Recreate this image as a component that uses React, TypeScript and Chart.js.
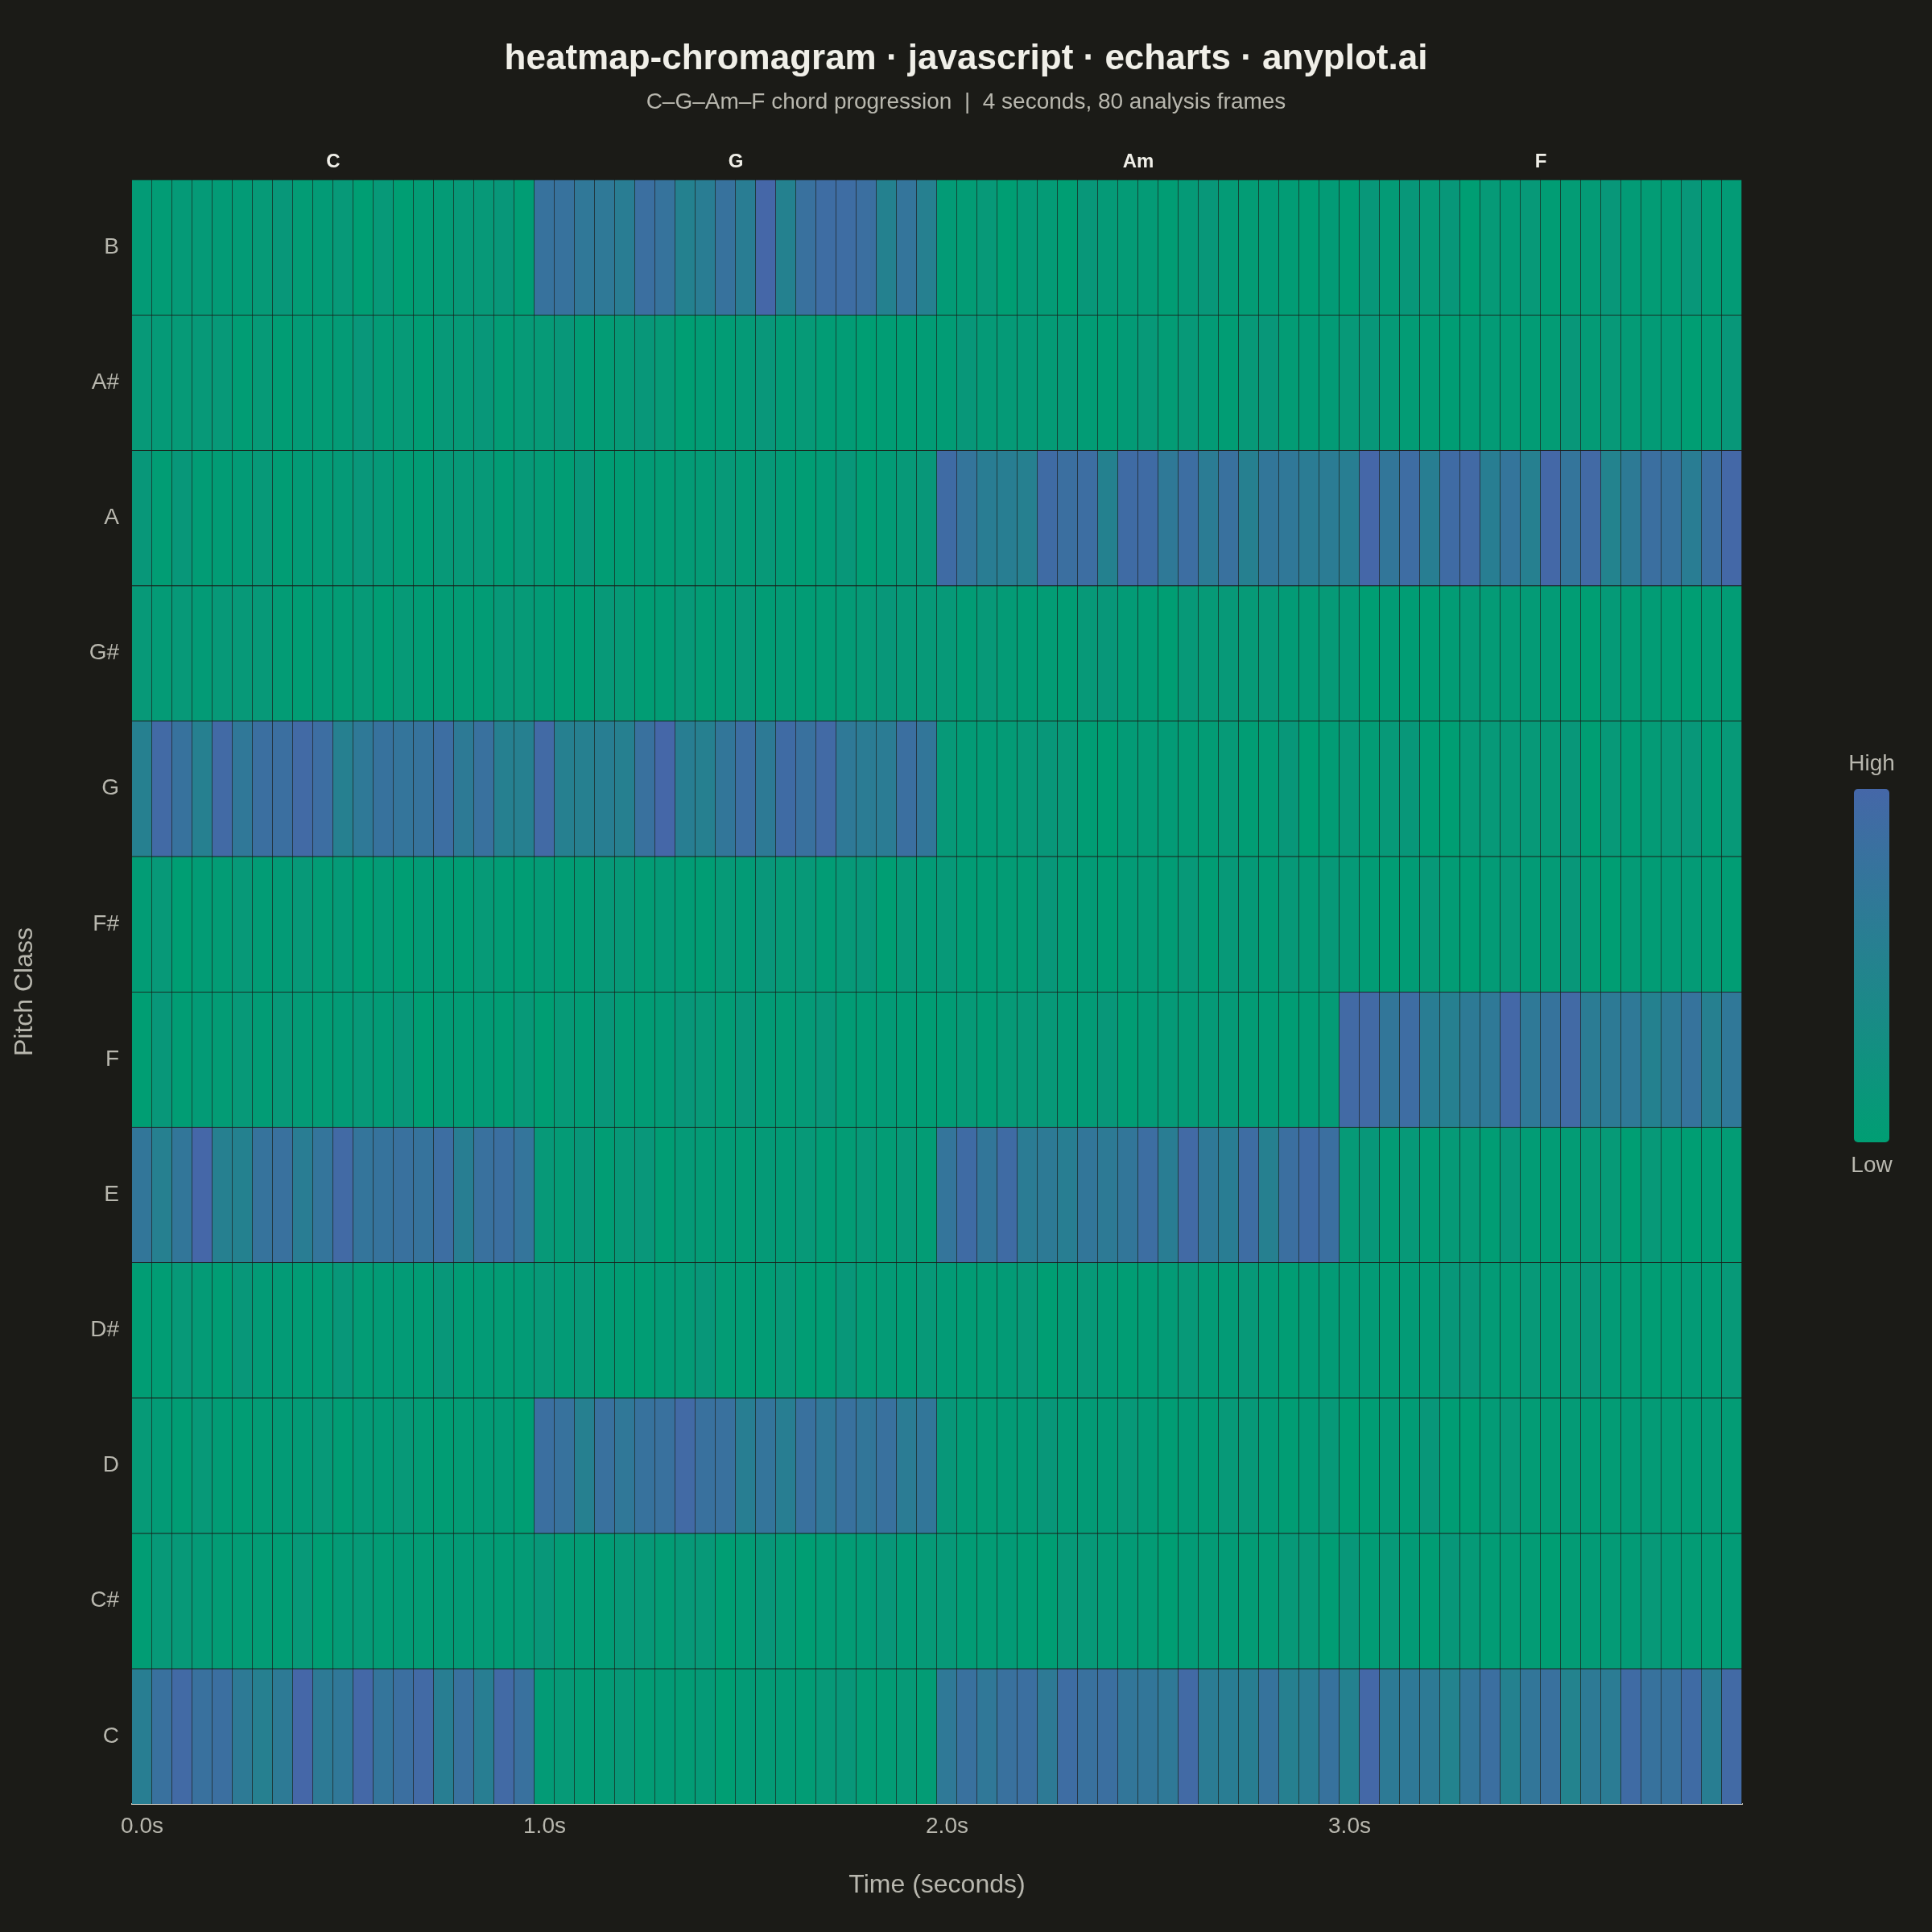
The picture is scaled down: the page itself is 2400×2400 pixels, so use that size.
import React, { useEffect, useRef } from 'react';
import { Chart, registerables } from 'chart.js';

Chart.register(...registerables);

// pitch classes from bottom row to top row
const PITCH_CLASSES = ['C', 'C#', 'D', 'D#', 'E', 'F', 'F#', 'G', 'G#', 'A', 'A#', 'B'];
const CHORDS = ['C', 'G', 'Am', 'F'];
const TIME_TICKS = ['0.0s', '1.0s', '2.0s', '3.0s'];
const FRAMES_PER_CHORD = 20;

// chroma energy per frame (0 = low, 1 = high), 80 frames each
const CHROMA_C = [
  0.58, 0.82, 0.95, 0.82, 0.85, 0.65, 0.55, 0.65, 1.0, 0.65, 0.7, 0.98, 0.75, 0.85, 0.95, 0.58, 0.82, 0.58, 0.95, 0.82,
  0.05, 0.08, 0.04, 0.06, 0.1, 0.04, 0.05, 0.04, 0.07, 0.0, 0.05, 0.06, 0.05, 0.03, 0.1, 0.12, 0.04, 0.04, 0.08, 0.04,
  0.68, 0.82, 0.7, 0.82, 0.85, 0.65, 0.9, 0.82, 0.85, 0.72, 0.72, 0.68, 0.95, 0.62, 0.6, 0.58, 0.78, 0.55, 0.6, 0.8,
  0.52, 0.98, 0.65, 0.68, 0.65, 0.5, 0.72, 0.85, 0.52, 0.72, 0.82, 0.5, 0.65, 0.62, 0.92, 0.8, 0.8, 0.92, 0.58, 0.95,
];
const CHROMA_CS = [
  0.02, 0.1, 0.1, 0.07, 0.04, 0.04, 0.04, 0.02, 0.1, 0.0, 0.06, 0.08, 0.04, 0.05, 0.04, 0.05, 0.05, 0.06, 0.03, 0.06,
  0.12, 0.04, 0.04, 0.03, 0.1, 0.1, 0.04, 0.1, 0.1, 0.0, 0.04, 0.12, 0.06, 0.0, 0.04, 0.04, 0.05, 0.12, 0.05, 0.08,
  0.1, 0.03, 0.04, 0.05, 0.02, 0.0, 0.1, 0.1, 0.06, 0.05, 0.04, 0.0, 0.05, 0.06, 0.05, 0.04, 0.04, 0.1, 0.1, 0.01,
  0.12, 0.03, 0.1, 0.05, 0.02, 0.12, 0.07, 0.03, 0.04, 0.04, 0.0, 0.04, 0.05, 0.06, 0.05, 0.1, 0.05, 0.04, 0.04, 0.05,
];
const CHROMA_D = [
  0.08, 0.05, 0.01, 0.1, 0.03, 0.01, 0.04, 0.05, 0.05, 0.1, 0.02, 0.07, 0.05, 0.1, 0.04, 0.02, 0.04, 0.05, 0.05, 0.0,
  0.85, 0.8, 0.55, 0.82, 0.7, 0.8, 0.82, 0.95, 0.82, 0.82, 0.58, 0.75, 0.58, 0.82, 0.7, 0.82, 0.72, 0.82, 0.62, 0.72,
  0.12, 0.05, 0.04, 0.05, 0.05, 0.12, 0.05, 0.05, 0.05, 0.1, 0.05, 0.02, 0.05, 0.03, 0.1, 0.1, 0.05, 0.02, 0.05, 0.1,
  0.0, 0.02, 0.06, 0.03, 0.12, 0.02, 0.0, 0.05, 0.1, 0.04, 0.04, 0.06, 0.03, 0.04, 0.05, 0.06, 0.04, 0.03, 0.06, 0.04,
];
const CHROMA_DS = [
  0.02, 0.02, 0.1, 0.06, 0.02, 0.12, 0.05, 0.05, 0.03, 0.03, 0.12, 0.04, 0.05, 0.05, 0.03, 0.12, 0.03, 0.05, 0.04, 0.05,
  0.1, 0.05, 0.1, 0.03, 0.01, 0.01, 0.05, 0.06, 0.12, 0.04, 0.03, 0.03, 0.1, 0.02, 0.02, 0.12, 0.04, 0.06, 0.03, 0.1,
  0.05, 0.03, 0.04, 0.05, 0.1, 0.0, 0.05, 0.1, 0.05, 0.02, 0.03, 0.05, 0.1, 0.05, 0.05, 0.1, 0.05, 0.02, 0.05, 0.05,
  0.05, 0.05, 0.04, 0.05, 0.05, 0.12, 0.12, 0.05, 0.04, 0.1, 0.05, 0.08, 0.12, 0.05, 0.04, 0.02, 0.02, 0.05, 0.03, 0.1,
];
const CHROMA_E = [
  0.72, 0.55, 0.72, 1.0, 0.55, 0.52, 0.78, 0.82, 0.6, 0.75, 0.95, 0.75, 0.78, 0.82, 0.78, 0.88, 0.58, 0.82, 0.85, 0.75,
  0.1, 0.06, 0.12, 0.02, 0.1, 0.13, 0.02, 0.07, 0.06, 0.05, 0.04, 0.07, 0.05, 0.1, 0.03, 0.04, 0.1, 0.04, 0.1, 0.04,
  0.75, 0.92, 0.72, 0.92, 0.62, 0.65, 0.58, 0.72, 0.65, 0.72, 0.88, 0.6, 0.95, 0.68, 0.6, 0.9, 0.55, 0.85, 0.92, 0.85,
  0.08, 0.12, 0.04, 0.1, 0.04, 0.08, 0.08, 0.02, 0.12, 0.03, 0.03, 0.04, 0.08, 0.08, 0.0, 0.1, 0.03, 0.0, 0.03, 0.04,
];
const CHROMA_F = [
  0.0, 0.12, 0.02, 0.05, 0.04, 0.1, 0.03, 0.1, 0.06, 0.04, 0.05, 0.1, 0.05, 0.12, 0.0, 0.05, 0.03, 0.05, 0.02, 0.1,
  0.0, 0.08, 0.03, 0.12, 0.04, 0.03, 0.05, 0.12, 0.1, 0.04, 0.12, 0.05, 0.04, 0.07, 0.12, 0.03, 0.03, 0.05, 0.03, 0.02,
  0.03, 0.08, 0.03, 0.08, 0.1, 0.1, 0.05, 0.05, 0.12, 0.02, 0.05, 0.07, 0.06, 0.07, 0.07, 0.04, 0.03, 0.02, 0.03, 0.06,
  0.95, 0.95, 0.72, 0.9, 0.6, 0.55, 0.65, 0.68, 0.98, 0.68, 0.78, 0.95, 0.62, 0.65, 0.68, 0.52, 0.65, 0.78, 0.55, 0.7,
];
const CHROMA_FS = [
  0.03, 0.1, 0.0, 0.03, 0.04, 0.1, 0.03, 0.05, 0.1, 0.04, 0.07, 0.0, 0.06, 0.0, 0.05, 0.03, 0.02, 0.08, 0.03, 0.01,
  0.06, 0.02, 0.04, 0.1, 0.1, 0.04, 0.07, 0.03, 0.01, 0.08, 0.05, 0.13, 0.08, 0.1, 0.03, 0.1, 0.12, 0.0, 0.1, 0.05,
  0.1, 0.03, 0.03, 0.04, 0.04, 0.12, 0.04, 0.05, 0.02, 0.05, 0.06, 0.03, 0.1, 0.01, 0.1, 0.07, 0.03, 0.1, 0.06, 0.1,
  0.07, 0.03, 0.02, 0.03, 0.1, 0.04, 0.02, 0.05, 0.1, 0.05, 0.06, 0.12, 0.04, 0.0, 0.06, 0.03, 0.05, 0.06, 0.04, 0.01,
];
const CHROMA_G = [
  0.55, 0.95, 0.8, 0.55, 0.95, 0.7, 0.85, 0.85, 0.95, 0.88, 0.55, 0.68, 0.8, 0.75, 0.78, 0.88, 0.65, 0.82, 0.55, 0.55,
  0.95, 0.55, 0.55, 0.58, 0.55, 0.82, 1.0, 0.58, 0.55, 0.72, 0.88, 0.65, 0.92, 0.82, 0.95, 0.68, 0.62, 0.62, 0.85, 0.72,
  0.1, 0.05, 0.05, 0.06, 0.1, 0.12, 0.1, 0.02, 0.0, 0.05, 0.06, 0.05, 0.04, 0.04, 0.08, 0.02, 0.04, 0.12, 0.0, 0.03,
  0.1, 0.04, 0.1, 0.12, 0.02, 0.0, 0.08, 0.1, 0.1, 0.1, 0.08, 0.12, 0.0, 0.1, 0.03, 0.06, 0.1, 0.12, 0.03, 0.1,
];
const CHROMA_GS = [
  0.1, 0.06, 0.1, 0.05, 0.1, 0.1, 0.1, 0.04, 0.02, 0.05, 0.04, 0.08, 0.01, 0.08, 0.03, 0.04, 0.04, 0.03, 0.1, 0.08,
  0.05, 0.02, 0.01, 0.1, 0.08, 0.02, 0.03, 0.1, 0.04, 0.05, 0.1, 0.03, 0.06, 0.03, 0.04, 0.06, 0.08, 0.12, 0.1, 0.1,
  0.1, 0.03, 0.1, 0.06, 0.03, 0.04, 0.01, 0.1, 0.12, 0.05, 0.03, 0.0, 0.1, 0.08, 0.1, 0.08, 0.1, 0.05, 0.06, 0.08,
  0.07, 0.0, 0.03, 0.02, 0.02, 0.03, 0.07, 0.06, 0.06, 0.06, 0.05, 0.02, 0.0, 0.07, 0.04, 0.03, 0.02, 0.0, 0.04, 0.03,
];
const CHROMA_A = [
  0.12, 0.02, 0.12, 0.03, 0.03, 0.05, 0.1, 0.01, 0.05, 0.06, 0.07, 0.13, 0.09, 0.04, 0.03, 0.1, 0.1, 0.1, 0.03, 0.1,
  0.06, 0.01, 0.12, 0.02, 0.02, 0.05, 0.04, 0.06, 0.06, 0.1, 0.06, 0.1, 0.05, 0.01, 0.05, 0.12, 0.02, 0.05, 0.1, 0.12,
  0.92, 0.75, 0.6, 0.58, 0.55, 0.92, 0.85, 0.88, 0.52, 0.92, 0.92, 0.68, 0.88, 0.62, 0.82, 0.55, 0.72, 0.7, 0.62, 0.62,
  0.58, 1.0, 0.72, 0.9, 0.58, 0.92, 0.95, 0.58, 0.75, 0.55, 0.98, 0.75, 0.95, 0.5, 0.65, 0.85, 0.8, 0.6, 0.85, 0.98,
];
const CHROMA_AS = [
  0.1, 0.07, 0.08, 0.1, 0.1, 0.02, 0.08, 0.02, 0.05, 0.04, 0.06, 0.13, 0.06, 0.08, 0.02, 0.1, 0.08, 0.12, 0.04, 0.08,
  0.08, 0.12, 0.03, 0.04, 0.08, 0.12, 0.08, 0.0, 0.03, 0.03, 0.07, 0.13, 0.05, 0.08, 0.03, 0.03, 0.0, 0.02, 0.02, 0.03,
  0.03, 0.12, 0.07, 0.07, 0.07, 0.06, 0.07, 0.03, 0.02, 0.05, 0.1, 0.04, 0.1, 0.05, 0.02, 0.1, 0.12, 0.04, 0.05, 0.05,
  0.1, 0.12, 0.07, 0.04, 0.04, 0.02, 0.03, 0.05, 0.04, 0.03, 0.04, 0.12, 0.06, 0.1, 0.06, 0.05, 0.05, 0.0, 0.04, 0.12,
];
const CHROMA_B = [
  0.05, 0.03, 0.07, 0.07, 0.05, 0.05, 0.08, 0.12, 0.04, 0.05, 0.1, 0.0, 0.1, 0.0, 0.04, 0.06, 0.1, 0.1, 0.12, 0.02,
  0.8, 0.8, 0.7, 0.68, 0.6, 0.85, 0.78, 0.52, 0.6, 0.8, 0.6, 1.0, 0.52, 0.82, 0.9, 0.9, 0.85, 0.52, 0.75, 0.55,
  0.05, 0.04, 0.1, 0.0, 0.07, 0.06, 0.0, 0.12, 0.07, 0.06, 0.06, 0.02, 0.07, 0.12, 0.06, 0.04, 0.05, 0.03, 0.02, 0.05,
  0.02, 0.12, 0.06, 0.12, 0.08, 0.12, 0.0, 0.08, 0.05, 0.1, 0.01, 0.04, 0.06, 0.12, 0.05, 0.04, 0.03, 0.12, 0.03, 0.05,
];

const CHROMA = [
  CHROMA_C, CHROMA_CS, CHROMA_D, CHROMA_DS, CHROMA_E, CHROMA_F,
  CHROMA_FS, CHROMA_G, CHROMA_GS, CHROMA_A, CHROMA_AS, CHROMA_B,
];

const BG = '#1b1b17';
const TEXT = '#f0efe8';
const MUTED = '#b8b7ae';
const FONT = '"Liberation Sans", Arial, sans-serif';
const LOW: [number, number, number] = [0, 158, 115];
const HIGH: [number, number, number] = [69, 103, 168];

const mix = (t: number) => {
  const c = LOW.map((lo, k) => Math.round(lo + (HIGH[k] - lo) * t));
  return `rgb(${c[0]}, ${c[1]}, ${c[2]})`;
};

// chord names above the grid, centred on each chord's block of frames
const chordLabels = {
  id: 'chordLabels',
  afterDraw(chart: Chart) {
    const { ctx, chartArea } = chart;
    const x = chart.scales.x;
    ctx.save();
    ctx.fillStyle = TEXT;
    ctx.font = `bold 24px ${FONT}`;
    ctx.textAlign = 'center';
    ctx.textBaseline = 'middle';
    CHORDS.forEach((name, i) => {
      const first = x.getPixelForValue(i * FRAMES_PER_CHORD);
      const last = x.getPixelForValue((i + 1) * FRAMES_PER_CHORD - 1);
      ctx.fillText(name, (first + last) / 2, chartArea.top - 22);
    });
    ctx.restore();
  },
};

const colorBar = {
  id: 'colorBar',
  afterDraw(chart: Chart) {
    const { ctx, chartArea } = chart;
    const x = chartArea.right + 139;
    const y = 980;
    const w = 44;
    const h = 439;
    ctx.save();
    const grad = ctx.createLinearGradient(0, y + h, 0, y);
    grad.addColorStop(0, mix(0));
    grad.addColorStop(0.5, mix(0.5));
    grad.addColorStop(1, mix(1));
    ctx.fillStyle = grad;
    ctx.beginPath();
    ctx.roundRect(x, y, w, h, 5);
    ctx.fill();
    ctx.fillStyle = MUTED;
    ctx.font = `28px ${FONT}`;
    ctx.textAlign = 'center';
    ctx.textBaseline = 'middle';
    ctx.fillText('High', x + w / 2, y - 31);
    ctx.fillText('Low', x + w / 2, y + h + 29);
    ctx.restore();
  },
};

const Chromagram: React.FC = () => {
  const canvasRef = useRef<HTMLCanvasElement>(null);
  const chartRef = useRef<Chart | null>(null);

  useEffect(() => {
    if (!canvasRef.current) return;
    document.body.style.margin = '0';
    document.body.style.background = BG;
    if (chartRef.current) chartRef.current.destroy();

    Chart.defaults.font.family = FONT;
    const frames = CHROMA_C.map((_, i) => String(i));

    chartRef.current = new Chart(canvasRef.current, {
      type: 'bar',
      data: {
        labels: frames,
        datasets: CHROMA.map((row, i) => ({
          label: PITCH_CLASSES[i],
          data: row.map(() => 1),
          backgroundColor: row.map(mix),
          borderColor: BG,
          borderWidth: { top: 1, right: 1, left: 0, bottom: 0 },
          borderSkipped: false,
          barPercentage: 1,
          categoryPercentage: 1,
        })),
      },
      options: {
        responsive: false,
        animation: false,
        devicePixelRatio: 1,
        layout: { padding: 0 },
        plugins: {
          legend: { display: false },
          tooltip: { enabled: false },
          title: {
            display: true,
            text: 'heatmap-chromagram · javascript · echarts · anyplot.ai',
            color: TEXT,
            font: { size: 44, weight: 'bold' },
            padding: { top: 47, bottom: 0 },
          },
          subtitle: {
            display: true,
            text: 'C–G–Am–F chord progression  |  4 seconds, 80 analysis frames',
            color: MUTED,
            font: { size: 28 },
            padding: { top: 11, bottom: 78.6 },
          },
        },
        scales: {
          x: {
            stacked: true,
            grid: { display: false },
            border: { display: true, color: '#cbc8be', width: 2 },
            ticks: {
              autoSkip: false,
              maxRotation: 0,
              color: MUTED,
              font: { size: 28 },
              padding: 3,
              callback: (_v, i) => (i % FRAMES_PER_CHORD === 0 ? TIME_TICKS[i / FRAMES_PER_CHORD] : ''),
            },
            title: {
              display: true,
              text: 'Time (seconds)',
              color: MUTED,
              font: { size: 32 },
              padding: { top: 0, bottom: 39 },
            },
            afterFit: (s) => {
              s.height = 159;
            },
          },
          y: {
            stacked: true,
            min: 0,
            max: PITCH_CLASSES.length,
            grid: { display: false },
            border: { display: false },
            afterBuildTicks: (s) => {
              s.ticks = PITCH_CLASSES.map((_, i) => ({ value: i + 0.5 }));
            },
            ticks: {
              color: MUTED,
              font: { size: 28 },
              padding: 8,
              callback: (v) => PITCH_CLASSES[Math.floor(Number(v))],
            },
            title: {
              display: true,
              text: 'Pitch Class',
              color: MUTED,
              font: { size: 32 },
              padding: { top: 12, bottom: 0 },
            },
            afterFit: (s) => {
              s.width = 164;
            },
          },
          // empty right-hand band that leaves room for the colour bar
          legendSpace: {
            type: 'linear',
            position: 'right',
            grid: { display: false },
            border: { display: false },
            ticks: { display: false },
            afterFit: (s) => {
              s.width = 236;
            },
          },
        },
      },
      plugins: [chordLabels, colorBar],
    });

    return () => chartRef.current?.destroy();
  }, []);

  return (
    <div style={{ width: 2400, height: 2400, background: BG }}>
      <canvas ref={canvasRef} width={2400} height={2400}></canvas>
    </div>
  );
};

export default function App() {
  return <Chromagram />;
}
